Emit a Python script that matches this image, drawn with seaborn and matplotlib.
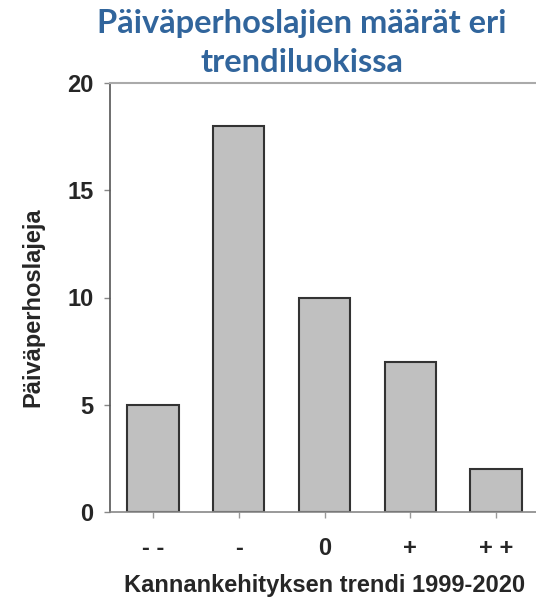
import matplotlib
matplotlib.use('Agg')
import matplotlib.pyplot as plt
import seaborn as sns
import pandas as pd

categories = ['- -', '-', '0', '+', '+ +']
species_counts = [5, 18, 10, 7, 2]
y_ticks = [0, 5, 10, 15, 20]

sns.set_style('white')
plt.rcParams['font.family'] = ['Liberation Sans', 'DejaVu Sans']

df = pd.DataFrame({'trend': categories, 'count': species_counts})

fig = plt.figure(figsize=(5.36, 6), dpi=100)
ax = fig.add_axes([110 / 536, 88 / 600, 429 / 536, 429 / 600])

sns.barplot(data=df, x='trend', y='count', color='#c0c0c0', saturation=1,
            edgecolor='#333333', linewidth=1.5, width=0.6, ax=ax)

ax.set_ylim(0, 20)
ax.set_xlim(-0.5, 4.5)
ax.set_yticks(y_ticks)
ax.tick_params(axis='y', which='major', left=True, length=4, width=1,
               color='#888888', pad=8, labelsize=17)
ax.tick_params(axis='x', which='major', bottom=True, length=4, width=1,
               color='#999999', pad=14, labelsize=17)
for lab in ax.get_xticklabels() + ax.get_yticklabels():
    lab.set_fontweight('bold')

ax.spines['left'].set_color('#555555')
ax.spines['left'].set_linewidth(1.2)
ax.spines['bottom'].set_color('#888888')
ax.spines['bottom'].set_linewidth(1.2)
ax.spines['top'].set_color('#aaaaaa')
ax.spines['top'].set_linewidth(1.5)
ax.spines['right'].set_visible(False)

ax.set_xlabel('Kannankehityksen trendi 1999-2020', fontsize=17,
              fontweight='bold', labelpad=10)
ax.set_ylabel('Päiväperhoslajeja', fontsize=17, fontweight='bold')
ax.yaxis.set_label_coords(-0.152, 0.478)

title_kw = dict(ha='center', va='baseline', fontsize=23.5, fontweight='bold',
                color='#31659c', family=['Lato', 'DejaVu Sans'])
fig.text(302 / 536, 1 - 33 / 600, 'Päiväperhoslajien määrät eri', **title_kw)
fig.text(302 / 536, 1 - 72 / 600, 'trendiluokissa', **title_kw)

fig.savefig('out.png', dpi=100)
